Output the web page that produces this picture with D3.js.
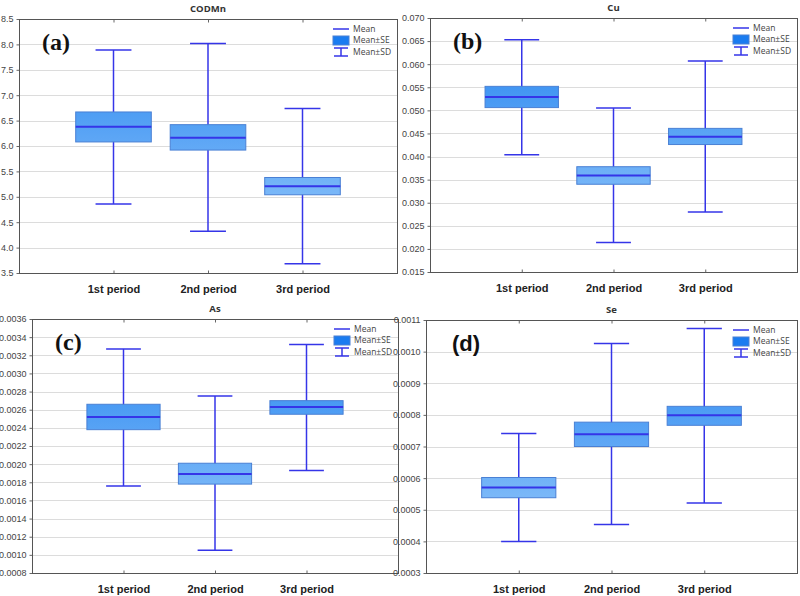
<!DOCTYPE html>
<html>
<head>
<meta charset="utf-8">
<script src="https://cdn.jsdelivr.net/npm/d3@7/dist/d3.min.js"></script>
<style>
  body { margin: 0; background: #fff; }
  svg { display: block; font-family: "Open Sans", "DejaVu Sans", sans-serif; }
</style>
</head>
<body>
<svg id="chart" width="800" height="596"></svg>
<script>
// categories shared by every panel
var periods = ['1st period', '2nd period', '3rd period'];

// (a) CODMn
var codmnMean = [6.38, 6.16, 5.21];
var codmnSE = [[6.08, 6.67], [5.92, 6.42], [5.04, 5.38]];
var codmnSD = [[4.86, 7.89], [4.32, 8.02], [3.68, 6.74]];
var codmnTicks = [3.5, 4.0, 4.5, 5.0, 5.5, 6.0, 6.5, 7.0, 7.5, 8.0, 8.5];

// (b) Cu
var cuMean = [0.0529, 0.0359, 0.0443];
var cuSE = [[0.0506, 0.0552], [0.0340, 0.0378], [0.0426, 0.0461]];
var cuSD = [[0.0404, 0.0653], [0.0214, 0.0505], [0.0280, 0.0607]];
var cuTicks = [0.015, 0.020, 0.025, 0.030, 0.035, 0.040, 0.045, 0.050, 0.055, 0.060, 0.065, 0.070];

// (c) As
var asMean = [0.00252, 0.00189, 0.00263];
var asSE = [[0.00238, 0.00266], [0.00178, 0.00201], [0.00255, 0.00270]];
var asSD = [[0.00176, 0.00327], [0.00105, 0.00275], [0.00193, 0.00332]];
var asTicks = [0.0008, 0.0010, 0.0012, 0.0014, 0.0016, 0.0018, 0.0020, 0.0022, 0.0024,
  0.0026, 0.0028, 0.0030, 0.0032, 0.0034, 0.0036];

// (d) Se
var seMean = [0.000570, 0.000739, 0.000799];
var seSE = [[0.000538, 0.000602], [0.000700, 0.000777], [0.000767, 0.000827]];
var seSD = [[0.000400, 0.000741], [0.000453, 0.001026], [0.000521, 0.001073]];
var seTicks = [0.0003, 0.0004, 0.0005, 0.0006, 0.0007, 0.0008, 0.0009, 0.0010, 0.0011];

var svg = d3.select('#chart');

var panels = [
  { id: 'a', title: 'CODMn', label: '(a)', serif: true, mean: codmnMean, se: codmnSE, sd: codmnSD, ticks: codmnTicks, fmt: '.1f',
    x0: 19, x1: 397, y0: 19, y1: 273 },
  { id: 'b', title: 'Cu', label: '(b)', serif: true, mean: cuMean, se: cuSE, sd: cuSD, ticks: cuTicks, fmt: '.3f',
    x0: 430, x1: 797, y0: 18, y1: 272 },
  { id: 'c', title: 'As', label: '(c)', serif: true, mean: asMean, se: asSE, sd: asSD, ticks: asTicks, fmt: '.4f',
    x0: 32, x1: 398, y0: 319, y1: 573 },
  { id: 'd', title: 'Se', label: '(d)', serif: false, mean: seMean, se: seSE, sd: seSD, ticks: seTicks, fmt: '.4f',
    x0: 426, x1: 797, y0: 320, y1: 573 }
];

var whiskerColor = '#3535e8';
var boxStroke = '#4a80d4';

panels.forEach(function (p) {
  var w = p.x1 - p.x0, h = p.y1 - p.y0;

  // fill shades from dark at the top of the plot to light at the bottom
  var grad = svg.append('defs').append('linearGradient')
    .attr('id', 'grad-' + p.id)
    .attr('gradientUnits', 'userSpaceOnUse')
    .attr('x1', 0).attr('y1', p.y0).attr('x2', 0).attr('y2', p.y1);
  grad.append('stop').attr('offset', '0%').attr('stop-color', '#1e80ef');
  grad.append('stop').attr('offset', '100%').attr('stop-color', '#a2d0fc');

  var x = d3.scalePoint().domain(periods).range([p.x0, p.x1]).padding(1);
  var y = d3.scaleLinear()
    .domain([p.ticks[0], p.ticks[p.ticks.length - 1]])
    .range([p.y1, p.y0]);

  var g = svg.append('g');

  // grid
  g.append('g').selectAll('line')
    .data(p.ticks.slice(1, -1))
    .enter().append('line')
    .attr('x1', p.x0).attr('x2', p.x1)
    .attr('y1', function (d) { return Math.round(y(d)) + 0.5; })
    .attr('y2', function (d) { return Math.round(y(d)) + 0.5; })
    .attr('stroke', '#dcdcdc');

  // y axis
  var yAxis = g.append('g')
    .attr('transform', 'translate(' + (p.x0 + 0.5) + ',0)')
    .call(d3.axisLeft(y).tickValues(p.ticks).tickFormat(d3.format(p.fmt)).tickSize(3).tickPadding(3));
  yAxis.select('.domain').remove();
  yAxis.selectAll('.tick line').attr('stroke', '#666');
  yAxis.selectAll('text').attr('font-size', 9).attr('fill', '#444');

  // x axis: small inner ticks bottom and top, bold labels
  var xAxis = g.append('g')
    .attr('transform', 'translate(0,' + (p.y1 + 0.5) + ')')
    .call(d3.axisBottom(x).tickSize(-3).tickPadding(12));
  xAxis.select('.domain').remove();
  xAxis.selectAll('.tick line').attr('stroke', '#666');
  xAxis.selectAll('text').attr('font-size', 11).attr('font-weight', 'bold').attr('fill', '#222');
  var xTop = g.append('g')
    .attr('transform', 'translate(0,' + (p.y0 + 0.5) + ')')
    .call(d3.axisTop(x).tickSize(-3).tickFormat(''));
  xTop.select('.domain').remove();
  xTop.selectAll('.tick line').attr('stroke', '#666');

  // frame
  g.append('rect')
    .attr('x', p.x0 + 0.5).attr('y', p.y0 + 0.5)
    .attr('width', w).attr('height', h)
    .attr('fill', 'none').attr('stroke', '#555');

  // title
  g.append('text')
    .attr('x', (p.x0 + p.x1) / 2).attr('y', p.y0 - 7)
    .attr('text-anchor', 'middle')
    .attr('font-size', 9.5).attr('font-weight', 'bold').attr('fill', '#333')
    .text(p.title);

  var boxW = w * 0.2, capW = w * 0.095;
  var rows = periods.map(function (c, i) {
    return { cat: c, mean: p.mean[i], se: p.se[i], sd: p.sd[i] };
  });

  var marks = g.append('g').selectAll('g').data(rows).enter().append('g');

  // whisker stem
  marks.append('line')
    .attr('x1', function (d) { return x(d.cat); })
    .attr('x2', function (d) { return x(d.cat); })
    .attr('y1', function (d) { return y(d.sd[0]); })
    .attr('y2', function (d) { return y(d.sd[1]); })
    .attr('stroke', whiskerColor).attr('stroke-width', 1.5);
  // caps
  [0, 1].forEach(function (k) {
    marks.append('line')
      .attr('x1', function (d) { return x(d.cat) - capW / 2; })
      .attr('x2', function (d) { return x(d.cat) + capW / 2; })
      .attr('y1', function (d) { return y(d.sd[k]); })
      .attr('y2', function (d) { return y(d.sd[k]); })
      .attr('stroke', whiskerColor).attr('stroke-width', 1.5);
  });
  // SE box
  marks.append('rect')
    .attr('x', function (d) { return x(d.cat) - boxW / 2; })
    .attr('y', function (d) { return y(d.se[1]); })
    .attr('width', boxW)
    .attr('height', function (d) { return y(d.se[0]) - y(d.se[1]); })
    .attr('fill', 'url(#grad-' + p.id + ')')
    .attr('stroke', boxStroke).attr('stroke-width', 1);
  // mean line
  marks.append('line')
    .attr('x1', function (d) { return x(d.cat) - boxW / 2; })
    .attr('x2', function (d) { return x(d.cat) + boxW / 2; })
    .attr('y1', function (d) { return y(d.mean); })
    .attr('y2', function (d) { return y(d.mean); })
    .attr('stroke', whiskerColor).attr('stroke-width', 2);

  // legend
  var lx = p.x1 - 64, ly = p.y0 + 10;
  var leg = g.append('g').attr('transform', 'translate(' + lx + ',' + ly + ')');
  leg.append('line').attr('x1', 0).attr('x2', 16).attr('y1', 0).attr('y2', 0)
    .attr('stroke', whiskerColor).attr('stroke-width', 1.5);
  leg.append('rect').attr('x', 0).attr('y', 7).attr('width', 16).attr('height', 9)
    .attr('fill', '#1a7cf0').attr('stroke', boxStroke);
  leg.append('line').attr('x1', 1).attr('x2', 15).attr('y1', 19).attr('y2', 19)
    .attr('stroke', whiskerColor).attr('stroke-width', 1.5);
  leg.append('line').attr('x1', 8).attr('x2', 8).attr('y1', 19).attr('y2', 27)
    .attr('stroke', whiskerColor).attr('stroke-width', 1.5);
  leg.append('line').attr('x1', 1).attr('x2', 15).attr('y1', 27).attr('y2', 27)
    .attr('stroke', whiskerColor).attr('stroke-width', 1.5);
  leg.selectAll('text').data(['Mean', 'Mean\u00b1SE', 'Mean\u00b1SD']).enter().append('text')
    .attr('x', 20)
    .attr('y', function (d, i) { return [0, 11.5, 23][i]; })
    .attr('dy', '0.35em')
    .attr('font-size', 8.5).attr('fill', '#444')
    .text(function (d) { return d; });

  // panel letter
  g.append('text')
    .attr('x', p.x0 + (p.serif ? 23 : 26)).attr('y', p.y0 + 31)
    .attr('font-family', p.serif ? '"Liberation Serif", "DejaVu Serif", serif' : '"Liberation Sans", Arial, sans-serif')
    .attr('font-size', p.serif ? 24 : 22).attr('font-weight', 'bold').attr('fill', '#111')
    .text(p.label);
});
</script>
</body>
</html>
